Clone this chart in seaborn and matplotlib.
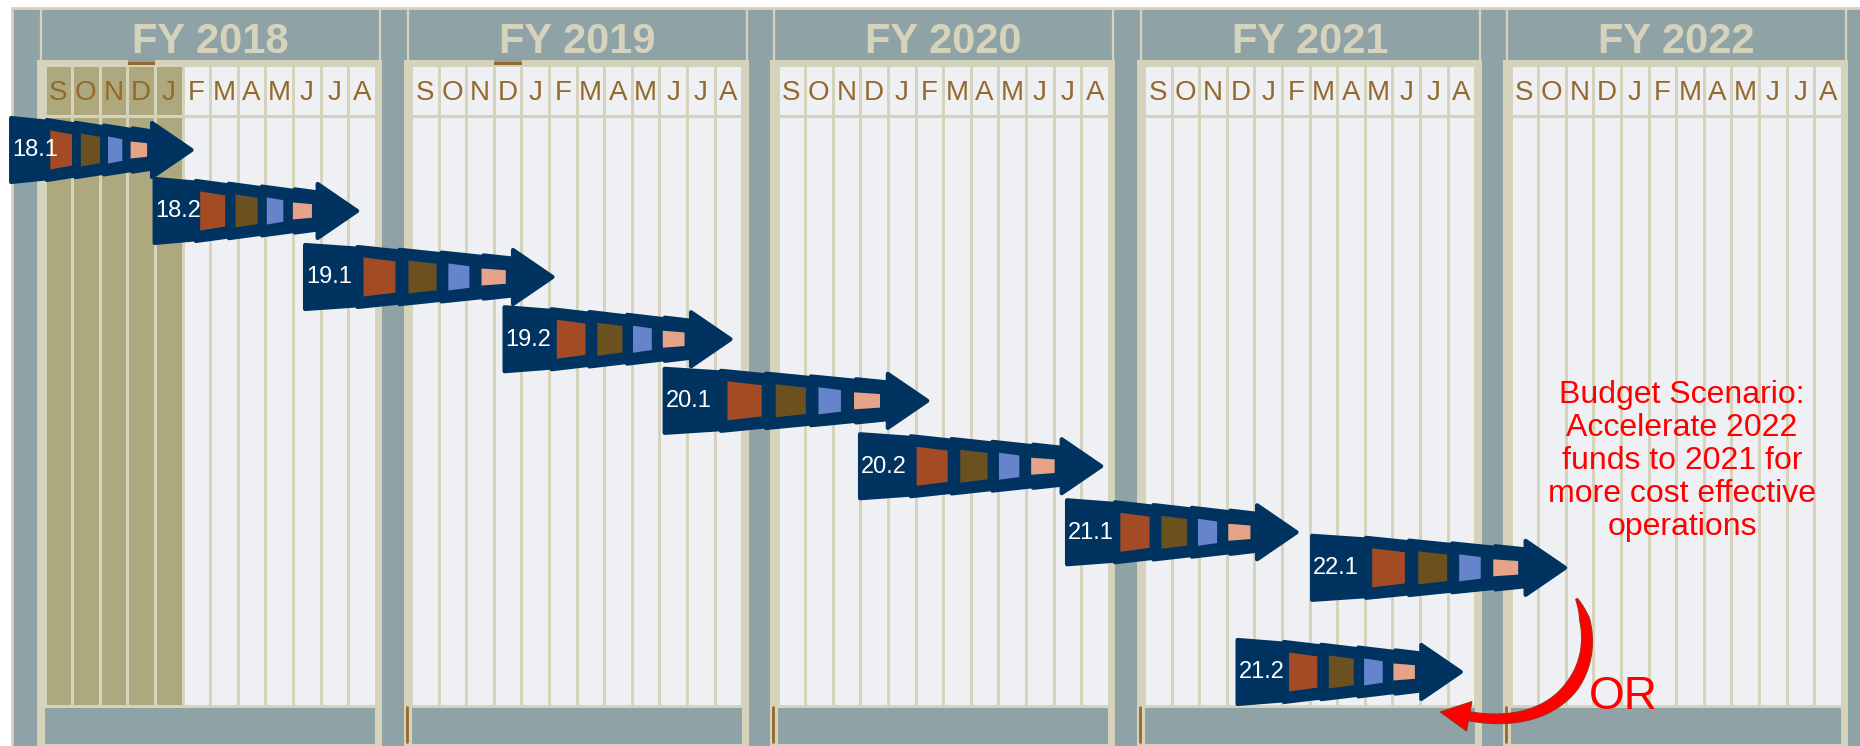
import numpy as np
import matplotlib
matplotlib.use("Agg")
import matplotlib.pyplot as plt
import seaborn as sns
from matplotlib.patches import Rectangle, Polygon

# ---------------- data ----------------
fiscal_years = ["FY 2018", "FY 2019", "FY 2020", "FY 2021", "FY 2022"]
month_letters = ["S", "O", "N", "D", "J", "F", "M", "A", "M", "J", "J", "A"]
elapsed_months = 5            # S..J of FY2018 already elapsed (shaded)
marker_month = 3              # December marker
marker_years = [0, 1]
release_labels = ["18.1", "18.2", "19.1", "19.2", "20.1", "20.2", "21.1", "22.1", "21.2"]
release_start = [-1.3, 3.9, 9.35, 15.3, 21.1, 26.9, 34.4, 42.0, 39.3]     # months from Sep FY2018
release_end = [5.4, 11.4, 17.2, 23.65, 29.5, 35.8, 41.6, 50.05, 47.55]
release_lane = [0, 0.96, 2.0, 2.98, 3.95, 4.98, 6.02, 6.58, 8.22]
phase_colors = ["#A34B24", "#6B5020", "#6584CC", "#E6A387"]
scenario_text = "Budget Scenario:\nAccelerate 2022\nfunds to 2021 for\nmore cost effective\noperations"
alt_text = "OR"

# ---------------- style ----------------
sns.set_theme(style="white")
plt.rcParams["font.family"] = ["Liberation Sans", "DejaVu Sans"]

GREY = "#8FA3A6"
BEIGE = "#D6D3BD"
CELLC = "#EEF0F3"
OLIVE = "#ADA87E"
GOLD = "#94692A"
NAVY = "#00335F"
RED = "#FF0000"

W, H = 1860, 746
CELL = 27.6          # px per month
X0PX = 45.0          # px of first month
GAP = 1.279          # gap between fiscal years (in month slots)
LANE = 63.5          # px per lane
Y0PX = 150.0


def X(p):
    return (p - X0PX) / CELL


def Y(p):
    return (p - Y0PX) / LANE


def dx(p):
    return p / CELL


def dy(p):
    return p / LANE


def to_px(x, y):
    return np.array([X0PX + CELL * x, Y0PX + LANE * y])


def mpos(m):
    fy = int(np.clip(np.floor(m / 12.0), 0, len(fiscal_years) - 1))
    return m + GAP * fy


fig = plt.figure(figsize=(W / 100, H / 100), dpi=100)
ax = fig.add_axes([0, 0, 1, 1])
ax.set_xlim(X(0), X(W))
ax.set_ylim(Y(H), Y(0))
ax.axis("off")
fig.patch.set_facecolor("white")


def rect(x0, y0, x1, y1, **kw):
    ax.add_patch(Rectangle((x0, y0), x1 - x0, y1 - y0, **kw))


# outer frame
rect(X(12), Y(8), X(W + 5), Y(H + 5), facecolor=GREY, edgecolor=BEIGE, lw=2, zorder=0)

for i, fy in enumerate(fiscal_years):
    p0 = mpos(12 * i)
    p1 = p0 + 12
    # header outline
    ax.plot([p0 - dx(4), p0 - dx(4)], [Y(9), Y(60)], color=BEIGE, lw=1.6, zorder=1)
    ax.plot([p1 + dx(4), p1 + dx(4)], [Y(9), Y(60)], color=BEIGE, lw=1.6, zorder=1)
    ax.text((p0 + p1) / 2, Y(53), fy, ha="center", va="baseline", fontsize=30,
            fontweight="bold", color=BEIGE, zorder=2)
    # beige panel
    rect(p0 - dx(8), Y(60), p1 + dx(6), Y(746), facecolor=BEIGE, lw=0, zorder=1)
    # bottom band
    rect(p0, Y(708), p1 - dx(1), Y(744), facecolor=GREY, lw=0, zorder=2)
    if i > 0:
        ax.plot([p0 - dx(5), p0 - dx(5)], [Y(707), Y(742)], color=GOLD, lw=2, zorder=3)
    for k, ml in enumerate(month_letters):
        m = 12 * i + k
        c = OLIVE if m < elapsed_months else CELLC
        cx0 = p0 + k + dx(1.5)
        cx1 = p0 + k + 1 - dx(1.5)
        rect(cx0, Y(67), cx1, Y(115), facecolor=c, lw=0, zorder=2)
        rect(cx0, Y(118), cx1, Y(705), facecolor=c, lw=0, zorder=2)
        ax.text(p0 + k + 0.5 - dx(0.5), Y(100), ml, ha="center", va="baseline",
                fontsize=20, color=GOLD, zorder=3)
        if k == marker_month and i in marker_years:
            rect(cx0 - dx(1.5), Y(58), cx1 + dx(1.5), Y(62), facecolor=GREY, lw=0, zorder=3)
            rect(cx0 - dx(1.5), Y(62), cx1 + dx(1.5), Y(65), facecolor=GOLD, lw=0, zorder=3)

# ---------------- release arrows ----------------
seg_frac = [0.25, 0.2, 0.2, 0.2, 0.15]
block_spec = [(0.19, 0.76, 19.5), (0.26, 0.67, 16.5), (0.21, 0.5, 13.5), (0.0, 0.77, 8.5)]
tips = {}
for lab, s, e, lane in zip(release_labels, release_start, release_end, release_lane):
    xs, xe = mpos(s), mpos(e)
    tips[lab] = (xe, lane)
    hb = xe - dx(42)
    L = hb - xs

    def half(x):
        t = (x - xs) / L
        return dy(34 + (20 - 34) * t)

    bounds = xs + L * np.concatenate([[0], np.cumsum(seg_frac)])
    z = 5
    for j in range(5):
        a, b = bounds[j], bounds[j + 1]
        b2 = b + (dx(10) if j == 4 else dx(2))
        step = dy(1.5) if j > 0 else 0
        poly = [(a + dx(2), lane - half(a) - step + dy(2)),
                (b2, lane - half(b2) + dy(2)),
                (b2, lane + half(b2) - dy(2)),
                (a + dx(2), lane + half(a) + step - dy(2))]
        ax.add_patch(Polygon(poly, closed=True, facecolor=NAVY, edgecolor=NAVY, lw=3,
                             joinstyle="round", zorder=z + j * 0.01))
    head = [(hb, lane - dy(27)), (xe - dx(2.5), lane), (hb, lane + dy(27))]
    ax.add_patch(Polygon(head, closed=True, facecolor=NAVY, edgecolor=NAVY, lw=3,
                         joinstyle="round", zorder=z + 0.06))
    for j, (off, wf, hh) in enumerate(block_spec):
        a, b = bounds[j + 1], bounds[j + 2]
        w = b - a
        bx0 = a + off * w
        bx1 = bx0 + wf * w
        hl, hr = dy(hh), dy(hh * 0.8)
        ax.add_patch(Polygon([(bx0, lane - hl), (bx1, lane - hr), (bx1, lane + hr), (bx0, lane + hl)],
                             closed=True, facecolor=phase_colors[j], lw=0, zorder=z + 0.1))
    ax.text(xs + dx(3), lane + dy(0.5), lab, ha="left", va="center", fontsize=17,
            color="white", zorder=z + 0.2)

# ---------------- scenario annotation ----------------
ax.text(X(1682), Y(380), scenario_text, ha="center", va="top", fontsize=23,
        color=RED, linespacing=1.13, zorder=8)

# curved red arrow from release 22.1 back to release 21.2 (built in pixel space)
P0 = to_px(*tips["22.1"]) + [9, 31]
HT = to_px(*tips["21.2"]) + [-23, 40]       # head tip
P3 = HT + [27, 4]                             # head base centre
C1 = P0 + [30, 55]
C2 = P3 + [105, 19]
t = np.linspace(0, 1, 120)[:, None]
B = (1 - t) ** 3 * P0 + 3 * (1 - t) ** 2 * t * C1 + 3 * (1 - t) * t ** 2 * C2 + t ** 3 * P3
dB = 3 * (1 - t) ** 2 * (C1 - P0) + 6 * (1 - t) * t * (C2 - C1) + 3 * t ** 2 * (P3 - C2)
tan = dB / np.linalg.norm(dB, axis=1, keepdims=True)
nrm = np.column_stack([-tan[:, 1], tan[:, 0]])
hw = np.interp(t[:, 0], [0, 0.12, 0.5, 0.85, 1], [1.0, 5.0, 6.5, 5.0, 4.5])[:, None]
outline = np.vstack([B + nrm * hw, (B - nrm * hw)[::-1]])
head_px = np.vstack([P3 + nrm[-1] * 15 - tan[-1] * 2, HT, P3 - nrm[-1] * 15 - tan[-1] * 2])


def px_to_data(arr):
    return np.column_stack([X(arr[:, 0]), Y(arr[:, 1])])


ax.add_patch(Polygon(px_to_data(outline), closed=True, facecolor=RED, edgecolor="#A2301A",
                     lw=0.8, zorder=9))
ax.add_patch(Polygon(px_to_data(head_px), closed=True, facecolor=RED, edgecolor="#A2301A",
                     lw=0.8, zorder=9))
ax.text(X(1589), Y(709), alt_text, ha="left", va="baseline", fontsize=33, color=RED, zorder=9)

fig.savefig("out.png", dpi=100, facecolor="white")
